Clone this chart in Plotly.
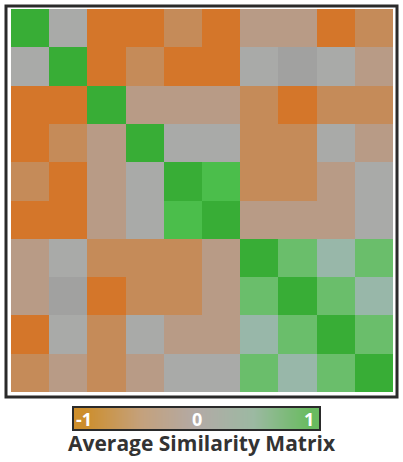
import plotly.graph_objects as go

# ---- data ----
labels = [f"S{i+1}" for i in range(10)]
# similarity values (symmetric)
similarity = [
    [ 1.0,  0.0, -1.0, -1.0, -0.6, -1.0, -0.3, -0.3, -1.0, -0.6],
    [ 0.0,  1.0, -1.0, -0.6, -1.0, -1.0,  0.0, -0.1,  0.0, -0.3],
    [-1.0, -1.0,  1.0, -0.3, -0.3, -0.3, -0.6, -1.0, -0.6, -0.6],
    [-1.0, -0.6, -0.3,  1.0,  0.0,  0.0, -0.6, -0.6,  0.0, -0.3],
    [-0.6, -1.0, -0.3,  0.0,  1.0,  0.8, -0.6, -0.6, -0.3,  0.0],
    [-1.0, -1.0, -0.3,  0.0,  0.8,  1.0, -0.3, -0.3, -0.3,  0.0],
    [-0.3,  0.0, -0.6, -0.6, -0.6, -0.3,  1.0,  0.6,  0.3,  0.6],
    [-0.3, -0.1, -1.0, -0.6, -0.6, -0.3,  0.6,  1.0,  0.6,  0.3],
    [-1.0,  0.0, -0.6,  0.0, -0.3, -0.3,  0.3,  0.6,  1.0,  0.6],
    [-0.6, -0.3, -0.6, -0.3,  0.0,  0.0,  0.6,  0.3,  0.6,  1.0],
]
cb_ticks = [-1, 0, 1]
cb_ticktext = ["-1", "0", "1"]
title_text = "Average Similarity Matrix"

# ---- styles ----
cell_scale = [
    [0.00, "#d4762a"],
    [0.20, "#c58b59"],
    [0.35, "#b89b86"],
    [0.45, "#a1a1a0"],
    [0.50, "#a9aaa8"],
    [0.65, "#98b7a9"],
    [0.80, "#6abe6b"],
    [0.90, "#4bbe4b"],
    [1.00, "#38ad36"],
]
bar_scale = [
    [0.00, "#cd8e2c"],
    [0.25, "#c4a17c"],
    [0.50, "#b2aaa6"],
    [0.75, "#9cb9a2"],
    [1.00, "#69bb60"],
]

W, H = 403, 462
def px(x):
    return x / W
def py(y):
    return 1 - y / H

fig = go.Figure()
fig.add_trace(go.Heatmap(
    z=similarity, x=labels, y=labels,
    colorscale=cell_scale, zmin=-1, zmax=1,
    showscale=False, hoverinfo="skip",
    xaxis="x", yaxis="y",
))
fig.add_trace(go.Heatmap(
    z=[cb_ticks, cb_ticks], x=cb_ticks, y=[0, 1],
    colorscale=bar_scale, zmin=-1, zmax=1, zsmooth="best",
    showscale=False, hoverinfo="skip",
    xaxis="x2", yaxis="y2",
))

for t, txt in zip(cb_ticks, cb_ticktext):
    fig.add_annotation(
        x=t, y=0.5, xref="x2", yref="y2", text=txt, showarrow=False,
        font=dict(family="Open Sans", size=18, color="white", weight="bold"),
        xanchor="center", yanchor="middle",
    )

fig.add_annotation(
    x=0.5, y=py(443), xref="paper", yref="paper", text=title_text,
    showarrow=False, xanchor="center", yanchor="middle",
    font=dict(family="Open Sans", size=21, color="#333333", weight="bold"),
)

# frame around the matrix
fig.add_shape(type="rect", xref="paper", yref="paper",
              x0=px(6), x1=px(397), y0=py(397), y1=py(6),
              line=dict(color="#2a2a2a", width=3), layer="above")
# frame around colour bar
fig.add_shape(type="rect", xref="paper", yref="paper",
              x0=px(73), x1=px(320), y0=py(430), y1=py(407),
              line=dict(color="#2a2a2a", width=2), layer="above")

fig.update_layout(
    width=W, height=H,
    margin=dict(l=0, r=0, t=0, b=0),
    paper_bgcolor="white", plot_bgcolor="white",
    xaxis=dict(domain=[px(11), px(393)], visible=False, showgrid=False),
    yaxis=dict(domain=[py(392), py(9)], visible=False, showgrid=False,
               autorange="reversed"),
    xaxis2=dict(domain=[px(73), px(320)], range=[-1.1, 1.1], visible=False,
                anchor="y2"),
    yaxis2=dict(domain=[py(430), py(407)], range=[-0.5, 1.5], visible=False,
                anchor="x2"),
    showlegend=False,
)

fig.write_html("out.html")
